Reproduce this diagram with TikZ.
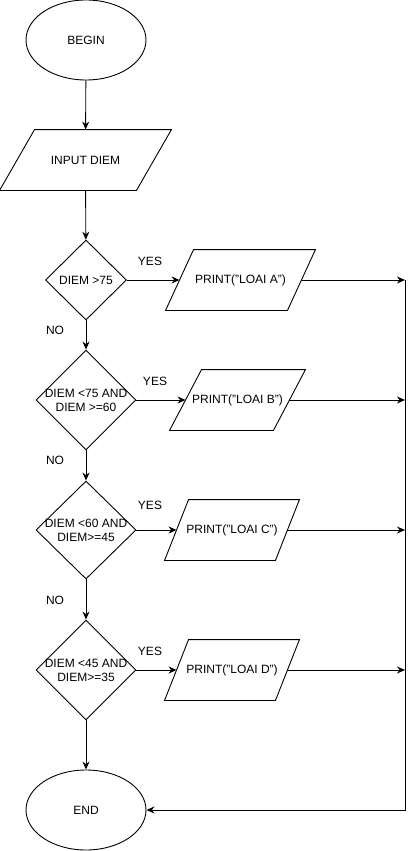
\documentclass[tikz,border=0pt]{standalone}
\usepackage{fontspec}
\setmainfont{Liberation Sans}
\usetikzlibrary{shapes.geometric,arrows.meta}

\tikzset{
  terminal/.style={draw, ellipse, inner sep=0pt, minimum width=120pt, minimum height=80pt},
  io/.style={rectangle, inner sep=0pt, minimum height=60pt},
  decision/.style={draw, diamond, inner sep=0pt},
  flow/.style={-{Stealth[length=8pt,width=7pt]}},
}

\begin{document}
\begin{tikzpicture}[x=1pt, y=-1pt, line width=0.9pt, font=\fontsize{12}{14}\selectfont]
  \useasboundingbox (0,0) rectangle (414,851);

  % start and input
  \node [terminal](begin) at (86,40) {BEGIN};
  \node [io, minimum width=136pt](input) at (85.5,160) {INPUT DIEM};

  % decisions
  \node [decision, minimum width=81pt, minimum height=80pt, label={center:DIEM >75}](dA) at (86,280) {};
  \node [decision, minimum width=100pt, minimum height=100pt, label={[align=center]center:DIEM <75 AND\\DIEM >=60}](dB) at (86,400) {};
  \node [decision, minimum width=100pt, minimum height=98pt, label={[align=center]center:DIEM <60 AND\\DIEM>=45}](dC) at (86,530) {};
  \node [decision, minimum width=100pt, minimum height=100pt, label={[align=center]center:DIEM <45 AND\\DIEM>=35}](dD) at (86,670) {};

  % outputs
  \node [io, minimum width=121pt](pA) at (240.5,280) {PRINT("LOAI A")};
  \node [io, minimum width=103pt](pB) at (237.5,400) {PRINT("LOAI B")};
  \node [io, minimum width=110pt](pC) at (232,530) {PRINT("LOAI C")};
  \node [io, minimum width=110pt](pD) at (232,670) {PRINT("LOAI D")};

  % slanted outlines of the io boxes
  \foreach \n/\s in {input/17.5, pA/14, pB/16, pC/12, pD/12}
    \draw ([xshift=\s pt]\n.north west) -- ([xshift=\s pt]\n.north east)
      -- ([xshift=-\s pt]\n.south east) -- ([xshift=-\s pt]\n.south west) -- cycle;

  \node [terminal](end) at (86,810) {END};

  % labels
  \node (yA) at (150,261) {YES};
  \node (yB) at (155,381) {YES};
  \node (yC) at (150,505) {YES};
  \node (yD) at (150,651) {YES};
  \node (nA) at (55,330) {NO};
  \node (nB) at (55,460) {NO};
  \node (nC) at (55,600) {NO};

  % right side collector
  \coordinate (bA) at (405,280);
  \coordinate (bB) at (405,400);
  \coordinate (bC) at (405,530);
  \coordinate (bD) at (405,670);

  \draw [flow] (begin) -- (input);
  \draw [flow] (input) -- (dA);
  \draw [flow] (dA) -- (dB);
  \draw [flow] (dB) -- (dC);
  \draw [flow] (dC) -- (dD);
  \draw [flow] (dD) -- (end);

  \draw [flow] (dA.east) -- (pA.west);
  \draw [flow] (dB.east) -- (pB.west);
  \draw [flow] (dC.east) -- (pC.west);
  \draw [flow] (dD.east) -- (pD.west);

  \draw [flow] (pA.east) -- (bA);
  \draw [flow] (pB.east) -- (bB);
  \draw [flow] (pC.east) -- (bC);
  \draw [flow] (pD.east) -- (bD);
  \draw [flow] (bA) |- (end.east);
\end{tikzpicture}
\end{document}
